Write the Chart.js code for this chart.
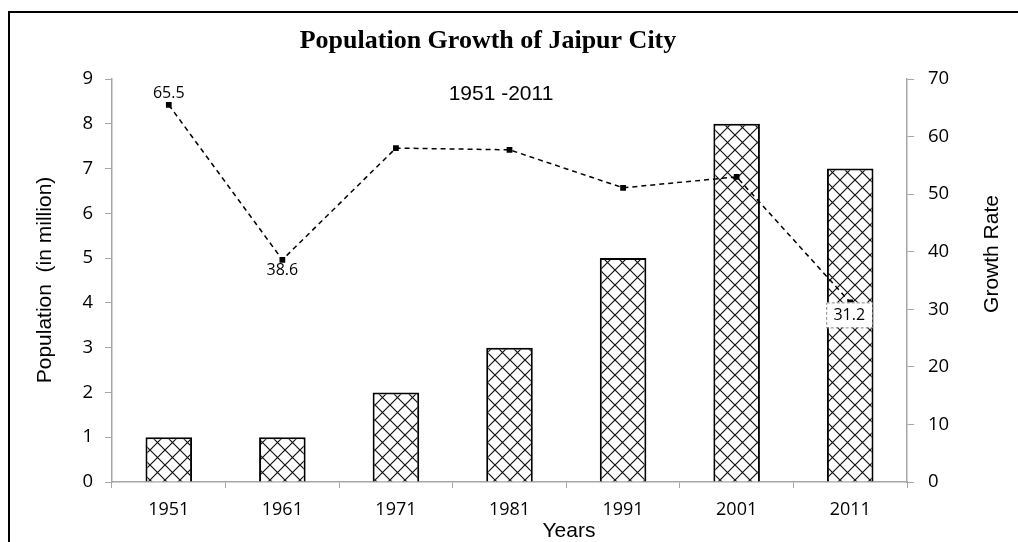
<!DOCTYPE html>
<html>
<head>
<meta charset="utf-8">
<script src="https://cdn.jsdelivr.net/npm/chart.js@4"></script>
<style>
  body { margin: 0; background: #fff; }
  #wrap { width: 1018px; height: 542px; }
</style>
</head>
<body>
<div id="wrap"><canvas id="jaipurChart" width="1018" height="542"></canvas></div>
<script>
const years = ['1951', '1961', '1971', '1981', '1991', '2001', '2011'];
const population = [1, 1, 2, 3, 5, 8, 7];
const growthRate = [65.5, 38.6, 58.0, 57.7, 51.1, 53.0, 31.2];
const labelledRates = [0, 1, 6];
const popTicks = [0, 1, 2, 3, 4, 5, 6, 7, 8, 9];
const rateTicks = [0, 10, 20, 30, 40, 50, 60, 70];

// cross-hatch fill like the old excel pattern
function makeHatch() {
  const c = document.createElement('canvas');
  c.width = 15;
  c.height = 15;
  const g = c.getContext('2d');
  g.fillStyle = '#fff';
  g.fillRect(0, 0, 15, 15);
  g.strokeStyle = '#111';
  g.lineWidth = 1.2;
  g.beginPath();
  g.moveTo(0, 0); g.lineTo(15, 15);
  g.moveTo(15, 0); g.lineTo(0, 15);
  g.stroke();
  return g.createPattern(c, 'repeat');
}

const canvas = document.getElementById('jaipurChart');
const hatch = makeHatch();
const tickFont = { family: '"Open Sans", "Noto Sans", sans-serif', size: 18 };
const axisTitleFont = '21px "Liberation Sans", Arial, sans-serif';

const frame = {
  id: 'frame',
  beforeDraw(chart) {
    const ctx = chart.ctx;
    ctx.save();
    ctx.fillStyle = '#fff';
    ctx.fillRect(0, 0, chart.width, chart.height);
    ctx.strokeStyle = '#000';
    ctx.lineWidth = 2;
    ctx.beginPath();
    ctx.moveTo(9, chart.height);
    ctx.lineTo(9, 12);
    ctx.lineTo(chart.width, 12);
    ctx.stroke();
    ctx.restore();
  },
  afterDraw(chart) {
    const ctx = chart.ctx;
    ctx.save();
    ctx.fillStyle = '#000';
    ctx.textAlign = 'center';
    ctx.textBaseline = 'middle';
    ctx.font = 'bold 26px "Liberation Serif", "Times New Roman", serif';
    ctx.fillText('Population Growth of Jaipur City', 488, 41);
    ctx.font = '21px "Liberation Sans", Arial, sans-serif';
    ctx.fillText('1951 -2011', 501, 94);

    // axis titles
    ctx.font = axisTitleFont;
    ctx.fillText('Years', 569, 531);
    ctx.save();
    ctx.translate(45, 280);
    ctx.rotate(-Math.PI / 2);
    ctx.fillText('Population  (in million)', 0, 0);
    ctx.restore();
    ctx.save();
    ctx.translate(992, 254);
    ctx.rotate(-Math.PI / 2);
    ctx.fillText('Growth Rate', 0, 0);
    ctx.restore();

    // data labels on the growth line
    const meta = chart.getDatasetMeta(1);
    ctx.font = '16px "Open Sans", "Noto Sans", sans-serif';
    labelledRates.forEach(i => {
      const pt = meta.data[i];
      const txt = String(growthRate[i]);
      if (i === 0) {
        ctx.fillText(txt, pt.x, pt.y - 11);
      } else if (i === 1) {
        ctx.fillText(txt, pt.x, pt.y + 11);
      } else {
        const w = 46, h = 25, cx = pt.x - 1, cy = pt.y + 12.5;
        ctx.fillStyle = '#fff';
        ctx.fillRect(cx - w / 2, cy - h / 2, w, h);
        ctx.setLineDash([3, 2]);
        ctx.strokeStyle = '#888';
        ctx.lineWidth = 1;
        ctx.strokeRect(cx - w / 2 + 0.5, cy - h / 2 + 0.5, w, h);
        ctx.setLineDash([]);
        ctx.fillStyle = '#000';
        ctx.fillText(txt, cx, cy + 1);
      }
    });
    ctx.restore();
  }
};

new Chart(canvas, {
  data: {
    labels: years,
    datasets: [
      {
        type: 'bar',
        label: 'Population',
        data: population,
        yAxisID: 'y',
        backgroundColor: hatch,
        borderColor: '#000',
        borderWidth: 2,
        barPercentage: 0.41,
        categoryPercentage: 1,
        order: 2
      },
      {
        type: 'line',
        label: 'Growth Rate',
        data: growthRate,
        yAxisID: 'y1',
        borderColor: '#000',
        borderWidth: 1.5,
        borderDash: [5, 4],
        pointStyle: 'rect',
        pointRadius: 3,
        pointBackgroundColor: '#000',
        pointBorderColor: '#000',
        tension: 0,
        order: 1
      }
    ]
  },
  plugins: [frame],
  options: {
    responsive: false,
    animation: false,
    layout: { padding: { top: 79, left: 0, right: 0, bottom: 0 } },
    plugins: {
      legend: { display: false },
      tooltip: { enabled: false }
    },
    scales: {
      x: {
        offset: true,
        grid: { display: true, offset: true, drawOnChartArea: false, color: '#a6a6a6', tickLength: 6 },
        border: { color: '#a6a6a6', width: 1.5 },
        ticks: { color: '#000', font: tickFont, padding: 11 },
        afterFit(scale) { scale.height = 60; }
      },
      y: {
        position: 'left',
        min: 0,
        max: 9,
        afterBuildTicks(scale) { scale.ticks = popTicks.map(v => ({ value: v })); },
        grid: { drawOnChartArea: false, color: '#a6a6a6', tickLength: 7 },
        border: { color: '#a6a6a6', width: 1.5 },
        ticks: { color: '#000', font: { ...tickFont, size: 18.5 }, padding: 12 },
        afterFit(scale) { scale.width = 112; }
      },
      y1: {
        position: 'right',
        min: 0,
        max: 70,
        afterBuildTicks(scale) { scale.ticks = rateTicks.map(v => ({ value: v })); },
        grid: { drawOnChartArea: false, color: '#a6a6a6', tickLength: 7 },
        border: { color: '#a6a6a6', width: 1.5 },
        ticks: { color: '#000', font: { ...tickFont, size: 18.5 }, padding: 14 },
        afterFit(scale) { scale.width = 111; }
      }
    }
  }
});
</script>
</body>
</html>
